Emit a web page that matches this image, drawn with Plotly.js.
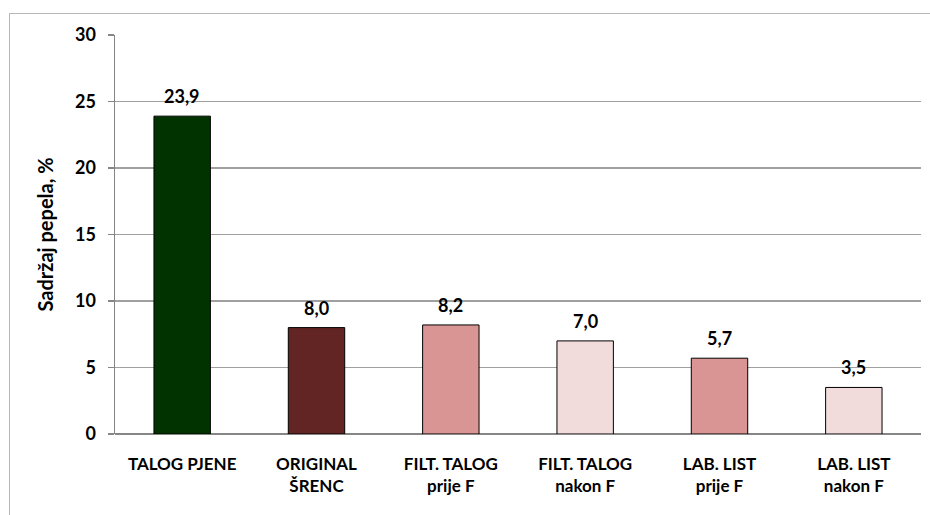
<!DOCTYPE html>
<html>
<head>
<meta charset="utf-8">
<script src="https://cdn.plot.ly/plotly-3.0.1.min.js"></script>
<style>
  html, body { margin: 0; padding: 0; background: #ffffff; }
  #wrap { position: relative; width: 930px; height: 515px; overflow: hidden; }
  #chart { position: absolute; left: 0; top: 0; width: 930px; height: 515px; }
  #frame { position: absolute; left: 9px; top: 13px; width: 940px; height: 540px;
           border-left: 1.5px solid #b8b8b8; border-top: 1.5px solid #b8b8b8; pointer-events: none; }
</style>
</head>
<body>
<div id="wrap">
  <div id="chart"></div>
  <div id="frame"></div>
</div>
<script>
const categories = [
  "TALOG PJENE",
  "ORIGINAL<br>ŠRENC",
  "FILT. TALOG<br>prije F",
  "FILT. TALOG<br>nakon F",
  "LAB. LIST<br>prije F",
  "LAB. LIST<br>nakon F"
];
const values = [23.9, 8.0, 8.2, 7.0, 5.7, 3.5];
const barColors = ["#003300", "#632523", "#d99594", "#f2dcdb", "#d99594", "#f2dcdb"];
const yTicks = [0, 5, 10, 15, 20, 25, 30];
const yTitle = "Sadržaj pepela, %";

const FONT = "Lato, 'Open Sans', sans-serif";

const trace = {
  type: "bar",
  x: categories,
  y: values,
  marker: { color: barColors, line: { color: "#000000", width: 1 } },
  width: 0.42,
  hoverinfo: "skip"
};

const labels = categories.map((c, i) => ({
  x: c,
  y: values[i],
  xref: "x",
  yref: "y",
  text: values[i].toFixed(1).replace(".", ","),
  showarrow: false,
  yanchor: "bottom",
  xanchor: "center",
  yshift: 7,
  font: { family: FONT, size: 18, color: "#000000", weight: "bold" }
}));

const layout = {
  width: 930,
  height: 515,
  margin: { l: 115, r: 9, t: 35, b: 81 },
  paper_bgcolor: "rgba(0,0,0,0)",
  plot_bgcolor: "#ffffff",
  separators: ", ",
  showlegend: false,
  font: { family: FONT, size: 17, color: "#000000", weight: "bold" },
  annotations: labels,
  xaxis: {
    type: "category",
    showgrid: false,
    showline: false,
    zeroline: false,
    ticks: "",
    ticklabelstandoff: 18,
    tickfont: { family: FONT, size: 17, color: "#000000", weight: "bold" },
    fixedrange: true
  },
  yaxis: {
    range: [0, 30],
    tickvals: yTicks,
    ticktext: yTicks.map(String),
    showgrid: true,
    gridcolor: "#a0a0a0",
    gridwidth: 1.3,
    showline: true,
    linecolor: "#868686",
    linewidth: 1.5,
    zeroline: true,
    zerolinecolor: "#868686",
    zerolinewidth: 1.8,
    ticks: "outside",
    ticklen: 6,
    tickcolor: "#868686",
    tickwidth: 1.3,
    ticklabelstandoff: 8,
    tickfont: { family: FONT, size: 18, color: "#000000", weight: "bold" },
    title: { text: yTitle, font: { family: FONT, size: 20, color: "#000000", weight: "bold" }, standoff: 16 },
    fixedrange: true
  }
};

Plotly.newPlot("chart", [trace], layout, { displayModeBar: false, staticPlot: true });
</script>
</body>
</html>
